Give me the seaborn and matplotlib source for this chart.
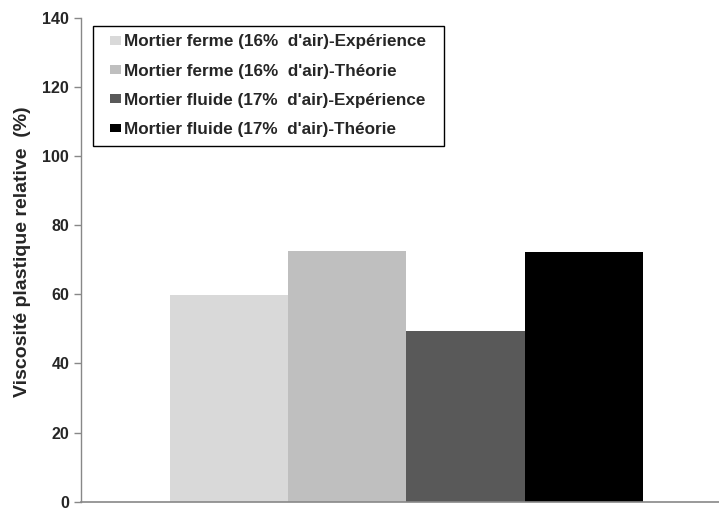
import pandas as pd
import seaborn as sns
import matplotlib.pyplot as plt
from matplotlib.patches import Patch, Rectangle
from matplotlib.legend_handler import HandlerPatch

series = [
    "Mortier ferme (16%  d'air)-Expérience",
    "Mortier ferme (16%  d'air)-Théorie",
    "Mortier fluide (17%  d'air)-Expérience",
    "Mortier fluide (17%  d'air)-Théorie",
]
values = [59.8, 72.5, 49.4, 72.3]
colors = ["#D9D9D9", "#BFBFBF", "#595959", "#000000"]

df = pd.DataFrame({"groupe": [""] * len(series), "serie": series, "valeur": values})

sns.set_style("white")
plt.rcParams["font.family"] = ["Liberation Sans", "DejaVu Sans"]
plt.rcParams["font.weight"] = "bold"

fig = plt.figure(figsize=(7.19, 5.09), dpi=100)
ax = fig.add_axes([0.1127, 0.0143, 0.8873, 0.9509])

sns.barplot(
    data=df,
    x="groupe",
    y="valeur",
    hue="serie",
    hue_order=series,
    palette=colors,
    width=0.8,
    saturation=1,
    linewidth=0,
    legend=False,
    ax=ax,
)

ax.set_ylim(0, 140)
ax.set_yticks(range(0, 141, 20))
ax.set_xlim(-0.5507, 0.5288)
ax.set_xticks([])
ax.set_xlabel("")
ax.set_ylabel("Viscosité plastique relative  (%)", fontsize=14, fontweight="bold")
ax.yaxis.set_label_coords(-0.079, 0.516)
ax.tick_params(axis="y", labelsize=11.5, length=5, width=1, color="#888888", direction="out", left=True)
for lab in ax.get_yticklabels():
    lab.set_fontweight("bold")

sns.despine(ax=ax, top=True, right=True)
ax.spines["left"].set_color("#888888")
ax.spines["bottom"].set_color("#888888")
ax.spines["left"].set_linewidth(1)
ax.spines["bottom"].set_linewidth(1.2)


# petit carré de légende, collé à droite de la zone du symbole
def carre(legend, orig_handle, xdescent, ydescent, width, height, fontsize):
    w = 0.68 * fontsize
    h = 0.51 * fontsize
    return Rectangle((-xdescent + width - w, -ydescent + (height - h) / 2), w, h)


handles = [Patch(facecolor=c, edgecolor="none") for c in colors]
ax.legend(
    handles, [s + "  " for s in series],
    handler_map={Patch: HandlerPatch(patch_func=carre)},
    loc="upper left",
    bbox_to_anchor=(0.0188, 0.983),
    borderaxespad=0,
    frameon=True,
    fancybox=False,
    edgecolor="black",
    framealpha=1,
    handlelength=1.16,
    handleheight=0.51,
    handletextpad=0.16,
    labelspacing=0.83,
    borderpad=0.5,
    prop={"size": 12.3, "weight": "bold"},
)
ax.get_legend().get_frame().set_linewidth(1)

fig.savefig("out.png", dpi=100)
